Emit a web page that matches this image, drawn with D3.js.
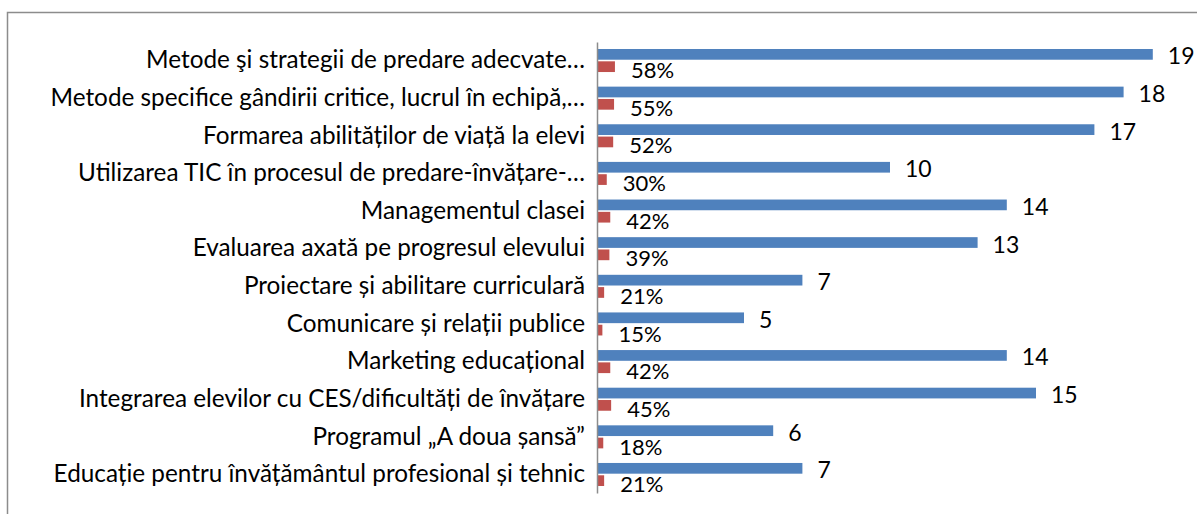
<!DOCTYPE html>
<html>
<head>
<meta charset="utf-8">
<script src="https://cdn.jsdelivr.net/npm/d3@7"></script>
<style>
    body { margin: 0; background: #fff; }
    svg { display: block; font-family: Lato, "Open Sans", sans-serif; }
</style>
</head>
<body>
<div id="chart-container"></div>
<script>
const categories = [
    "Metode şi strategii de predare adecvate…",
    "Metode specifice gândirii critice, lucrul în echipă,…",
    "Formarea abilităților de viață la elevi",
    "Utilizarea TIC în procesul de predare-învățare-…",
    "Managementul clasei",
    "Evaluarea axată pe progresul elevului",
    "Proiectare și abilitare curriculară",
    "Comunicare și relații publice",
    "Marketing educațional",
    "Integrarea elevilor cu CES/dificultăți de învățare",
    "Programul „A doua șansă”",
    "Educație pentru învățământul profesional și tehnic"
];
const counts = [19, 18, 17, 10, 14, 13, 7, 5, 14, 15, 6, 7];
const percents = [0.58, 0.55, 0.52, 0.30, 0.42, 0.39, 0.21, 0.15, 0.42, 0.45, 0.18, 0.21];
const seriesNames = ["count", "percent"];
const colors = {count: "#4f81bd", percent: "#c0504d"};

const width = 1197, height = 514;
const plot = {left: 597, top: 42, bottom: 493};

const svg = d3.select("#chart-container").append("svg")
    .attr("width", width)
    .attr("height", height);

// chart frame, cut off on the right and bottom like in the source
svg.append("rect")
    .attr("x", 7.5).attr("y", 12.5)
    .attr("width", width + 20).attr("height", height + 20)
    .attr("fill", "none")
    .attr("stroke", "#8c8c8c")
    .attr("stroke-width", 1.5);

const x = d3.scaleLinear()
    .domain([0, 20])
    .range([plot.left, plot.left + 20 * 29.2]);

const y = d3.scaleBand()
    .domain(categories)
    .range([plot.top, plot.bottom])
    .paddingInner(0.388)
    .paddingOuter(0.186);

const ySeries = d3.scaleBand()
    .domain(seriesNames)
    .range([0, y.bandwidth()])
    .paddingInner(0.13);

const rows = categories.map((c, i) => ({cat: c, count: counts[i], percent: percents[i]}));

const groups = svg.append("g")
    .selectAll("g")
    .data(rows)
    .join("g")
    .attr("transform", d => `translate(0, ${y(d.cat)})`);

groups.selectAll("rect")
    .data(d => seriesNames.map(s => ({key: s, value: d[s]})))
    .join("rect")
    .attr("x", x(0) + 1)
    .attr("y", d => ySeries(d.key))
    .attr("width", d => x(d.value) - x(0))
    .attr("height", ySeries.bandwidth())
    .attr("fill", d => colors[d.key]);

// data labels
groups.append("text")
    .attr("x", d => x(d.count) + 16)
    .attr("y", ySeries("count") + ySeries.bandwidth() / 2 + 1)
    .attr("dominant-baseline", "central")
    .style("font-size", "23px")
    .attr("fill", "#000")
    .text(d => d.count);

groups.append("text")
    .attr("x", d => x(d.percent) + 17)
    .attr("y", ySeries("percent") + ySeries.bandwidth() / 2 + 3)
    .attr("dominant-baseline", "central")
    .style("font-size", "22px")
    .attr("fill", "#000")
    .text(d => Math.round(d.percent * 100) + "%");

const yAxis = d3.axisLeft(y)
    .tickSize(0)
    .tickPadding(12);

const axisG = svg.append("g")
    .attr("transform", `translate(${plot.left}, 0)`)
    .call(yAxis);

axisG.select(".domain")
    .attr("stroke", "#8c8c8c")
    .attr("stroke-width", 1.5);

axisG.selectAll("text")
    .style("font-family", "Lato, sans-serif")
    .style("font-size", "24.3px")
    .attr("fill", "#000");
</script>
</body>
</html>
